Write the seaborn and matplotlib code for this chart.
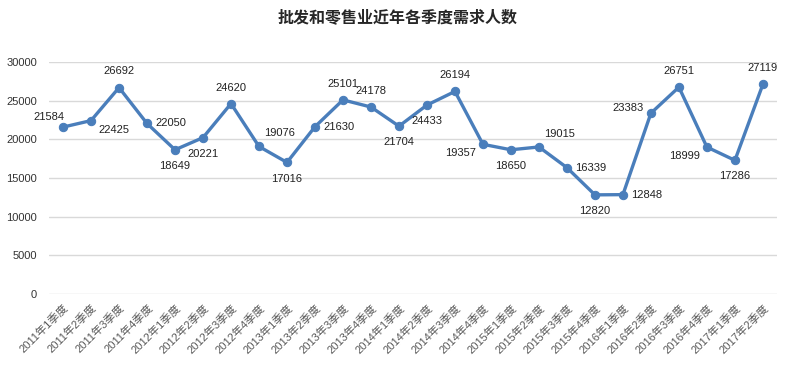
import numpy as np
import pandas as pd
import seaborn as sns
import matplotlib.pyplot as plt

# quarterly demand for wholesale & retail workers
years = [2011] * 4 + [2012] * 4 + [2013] * 4 + [2014] * 4 + [2015] * 4 + [2016] * 4 + [2017] * 2
quarters = [1, 2, 3, 4] * 6 + [1, 2]
demand = [21584, 22425, 26692, 22050, 18649, 20221, 24620, 19076,
          17016, 21630, 25101, 24178, 21704, 24433, 26194, 19357,
          18650, 19015, 16339, 12820, 12848, 23383, 26751, 18999,
          17286, 27119]
labels = [f"{y}年{q}季度" for y, q in zip(years, quarters)]

# where each value label sits relative to its point
label_pos = ['aboveleft', 'belowright', 'above', 'right', 'below', 'below', 'above', 'aboveright',
             'below', 'right', 'above', 'above', 'below', 'below', 'above', 'belowleft',
             'below', 'aboveright', 'right', 'below', 'right', 'left', 'above', 'belowleft',
             'below', 'above']
offsets = {'above': (0, 8, 'center', 'bottom'), 'below': (0, -8, 'center', 'top'),
           'left': (-5, 4, 'right', 'center'), 'right': (6, 0, 'left', 'center'),
           'aboveleft': (-10, 4, 'center', 'bottom'),
           'belowright': (5, -3, 'left', 'top'), 'belowleft': (-5, -3, 'right', 'top'),
           'aboveright': (4, 6, 'left', 'bottom')}

df = pd.DataFrame({'quarter': labels, 'demand': demand})
df['x'] = np.arange(len(df))

sns.set_style('white')
plt.rcParams['font.family'] = ['Liberation Sans', 'Noto Sans CJK SC', 'DejaVu Sans']

fig = plt.figure(figsize=(7.96, 3.77), dpi=100)
ax = fig.add_axes([0.0616, 0.2202, 0.9144, 0.6153])

blue = '#4A7EBB'
sns.lineplot(data=df, x='x', y='demand', ax=ax, color=blue, linewidth=2.4,
             marker='o', markersize=6, markeredgecolor=blue)

for xi, v, pos in zip(df['x'], df['demand'], label_pos):
    dx, dy, ha, va = offsets[pos]
    ax.annotate(str(v), (xi, v), xytext=(dx, dy), textcoords='offset points',
                ha=ha, va=va, fontsize=8, color='#222222')

ax.set_xlim(-0.5, len(df) - 0.5)
ax.set_ylim(0, 30000)
ax.set_yticks(range(0, 30001, 5000))
ax.set_xticks(df['x'])
ax.set_xticklabels(labels, rotation=45, ha='right', rotation_mode='anchor',
                   fontsize=8, color='#595959')
ax.tick_params(axis='y', labelsize=8, colors='#333333', length=0, pad=8.5)
ax.tick_params(axis='x', length=0, pad=6)
ax.yaxis.grid(True, color='#D9D9D9', linewidth=1)
ax.set_axisbelow(True)
for s in ax.spines.values():
    s.set_visible(False)
ax.set_xlabel('')
ax.set_ylabel('')

fig.suptitle('批发和零售业近年各季度需求人数', x=0.5, y=0.975, fontsize=11.5,
             fontweight='bold', family=['Noto Sans CJK SC', 'DejaVu Sans'])

fig.savefig('out.png', dpi=100)
